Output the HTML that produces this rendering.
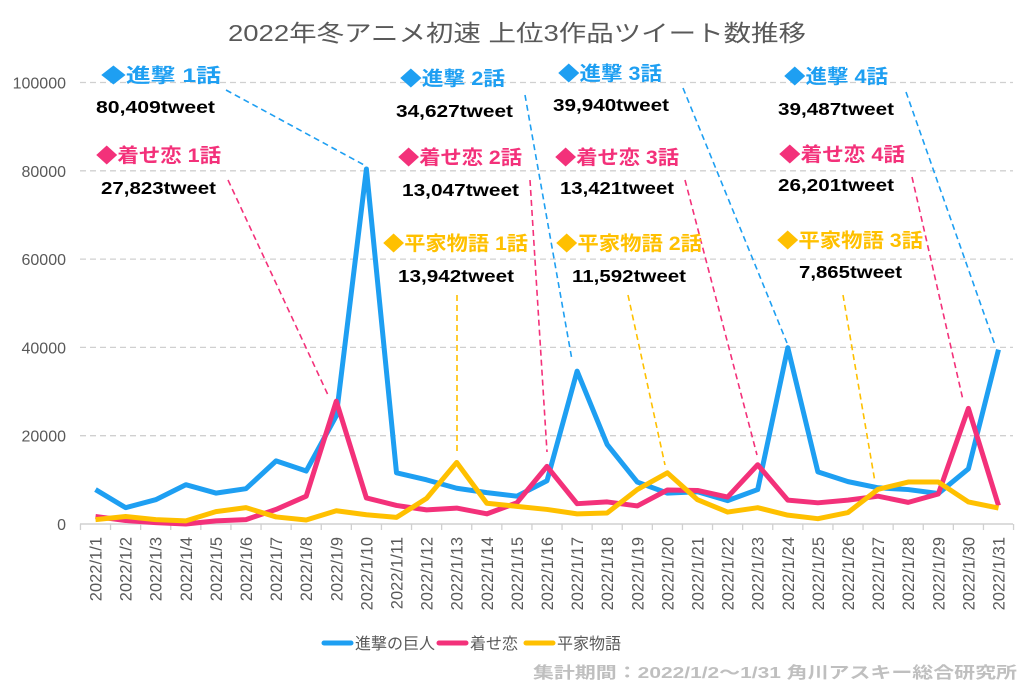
<!DOCTYPE html>
<html><head><meta charset="utf-8"><style>
html,body{margin:0;padding:0;background:#fff;}
svg{display:block;font-family:"Liberation Sans","Noto Sans CJK JP",sans-serif;}
</style></head><body>
<svg id="chart" width="1031" height="693" viewBox="0 0 1031 693" xmlns="http://www.w3.org/2000/svg">
<rect width="1031" height="693" fill="#fff"/>
<text x="228" y="41" font-size="23" fill="#595959" textLength="578" lengthAdjust="spacingAndGlyphs">2022年冬アニメ初速 上位3作品ツイート数推移</text>
<g id="grid"></g>
<g id="axes"></g>
<g id="annot-lines"></g>
<g id="series"></g>
<g id="annot-text" font-weight="bold"></g>
<g id="legend">
  <line x1="324" y1="643" x2="351" y2="643" stroke="#1E9FF2" stroke-width="5" stroke-linecap="round"/>
  <text x="355" y="649" font-size="16" fill="#595959">進撃の巨人</text>
  <line x1="439" y1="643" x2="466" y2="643" stroke="#F3317A" stroke-width="5" stroke-linecap="round"/>
  <text x="470" y="649" font-size="16" fill="#595959">着せ恋</text>
  <line x1="526" y1="643" x2="553" y2="643" stroke="#FFC000" stroke-width="5" stroke-linecap="round"/>
  <text x="557" y="649" font-size="16" fill="#595959">平家物語</text>
</g>
<text x="533" y="678" font-size="16" font-weight="bold" fill="#bfbfbf" textLength="484" lengthAdjust="spacingAndGlyphs">集計期間：2022/1/2～1/31 角川アスキー総合研究所</text>
</svg>
<script>
const categories = Array.from({length:31},(_,i)=>'2022/1/'+(i+1));
const shingeki = [7800,3700,5500,8900,7000,8000,14300,12000,24500,80409,11600,10000,8100,7100,6300,9800,34627,18000,9500,7000,7300,5300,7800,39940,11800,9600,8200,7800,6900,12500,39487];
const kisekoi = [1700,800,300,0,700,1000,3300,6300,27823,5900,4200,3200,3600,2300,4800,13047,4600,5000,4100,7700,7600,6100,13421,5400,4800,5400,6300,4900,6800,26201,4200];
const heike = [1000,1700,1000,700,2800,3700,1600,900,3000,2100,1500,5800,13942,4700,4000,3300,2300,2500,7800,11592,5500,2700,3700,2000,1200,2600,7865,9500,9500,5000,3600];
const yTicks = [0,20000,40000,60000,80000,100000];

const NS='http://www.w3.org/2000/svg';
const X0=95.5, STEP=30.1, Y0=524, YS=441.5/100000;
const xPos=i=>X0+i*STEP;
const yPos=v=>Y0-v*YS;
function mk(tag,attrs,parent){const e=document.createElementNS(NS,tag);for(const k in attrs)e.setAttribute(k,attrs[k]);parent.appendChild(e);return e;}

const grid=document.getElementById('grid');
yTicks.forEach(t=>{
  if(t>0){const l=mk('line',{x1:80,x2:1013,y1:yPos(t),y2:yPos(t),stroke:'#d0d0d0','stroke-width':1.3,'stroke-dasharray':'6,4'},grid);
  
  }
  const tx=mk('text',{x:66,y:yPos(t)+6,'text-anchor':'end','font-size':16,fill:'#595959'},grid);
  tx.textContent=t;
  
  
});

const axes=document.getElementById('axes');
const ax=mk('line',{x1:80,x2:1013,y1:Y0,y2:Y0,stroke:'#d0d0d0','stroke-width':1.5},axes);


for(let i=0;i<=categories.length;i++){
  mk('line',{x1:xPos(i)-STEP/2,x2:xPos(i)-STEP/2,y1:Y0,y2:Y0+6,stroke:'#d0d0d0','stroke-width':1.3},axes);
}
categories.forEach((c,i)=>{
  const t=mk('text',{transform:`translate(${xPos(i)+6},537) rotate(-90)`,'text-anchor':'end','font-size':16.5,fill:'#595959'},axes);
  t.textContent=c;
  
  
});

const al=document.getElementById('annot-lines');
const conn=[
 ['#1E9FF2',226,90,366,166],['#1E9FF2',525,95,572,360],['#1E9FF2',683,88,787,343],['#1E9FF2',906,92,995,345],
 ['#F3317A',228,180,328,395],['#F3317A',530,180,547,452],['#F3317A',685,180,757,455],['#F3317A',912,177,963,400],
 ['#FFC000',457,295,457,455],['#FFC000',628,295,665,465],['#FFC000',843,295,875,482]];
conn.forEach(c=>{const l=mk('line',{x1:c[1],y1:c[2],x2:c[3],y2:c[4],stroke:c[0],'stroke-width':1.6,'stroke-dasharray':'6,4'},al);
 
 });

const sg=document.getElementById('series');
[[shingeki,'#1E9FF2','series-shingeki'],[kisekoi,'#F3317A','series-kisekoi'],[heike,'#FFC000','series-heike']].forEach(s=>{
  const p=mk('polyline',{points:s[0].map((v,i)=>xPos(i)+','+yPos(v)).join(' '),fill:'none',stroke:s[1],'stroke-width':5,'stroke-linejoin':'round'},sg);
  
  
});

const at=document.getElementById('annot-text');
const labels=[
 ['#1E9FF2',101,82,'◆進撃 1話',120],['#000',96,113,'80,409tweet',119],
 ['#F3317A',96,162,'◆着せ恋 1話',125],['#000',101,194,'27,823tweet',115],
 ['#1E9FF2',400,85,'◆進撃 2話',105],['#000',396,117,'34,627tweet',117],
 ['#F3317A',398,164,'◆着せ恋 2話',124],['#000',402,196,'13,047tweet',117],
 ['#FFC000',383,250,'◆平家物語 1話',145],['#000',398,282,'13,942tweet',116],
 ['#1E9FF2',558,80,'◆進撃 3話',104],['#000',553,111,'39,940tweet',116],
 ['#F3317A',555,164,'◆着せ恋 3話',124],['#000',560,194,'13,421tweet',114],
 ['#FFC000',556,250,'◆平家物語 2話',146],['#000',572,282,'11,592tweet',114],
 ['#1E9FF2',784,83,'◆進撃 4話',104],['#000',778,115,'39,487tweet',116],
 ['#F3317A',779,161,'◆着せ恋 4話',126],['#000',778,191,'26,201tweet',116],
 ['#FFC000',777,247,'◆平家物語 3話',146],['#000',799,278,'7,865tweet',103]];
labels.forEach(l=>{const t=mk('text',{x:l[1],y:l[2],fill:l[0],'font-size':l[0]=='#000'?17.5:19.5,textLength:l[4],lengthAdjust:'spacingAndGlyphs'},at);
 t.textContent=l[3];
 
 });
</script>
</body></html>
